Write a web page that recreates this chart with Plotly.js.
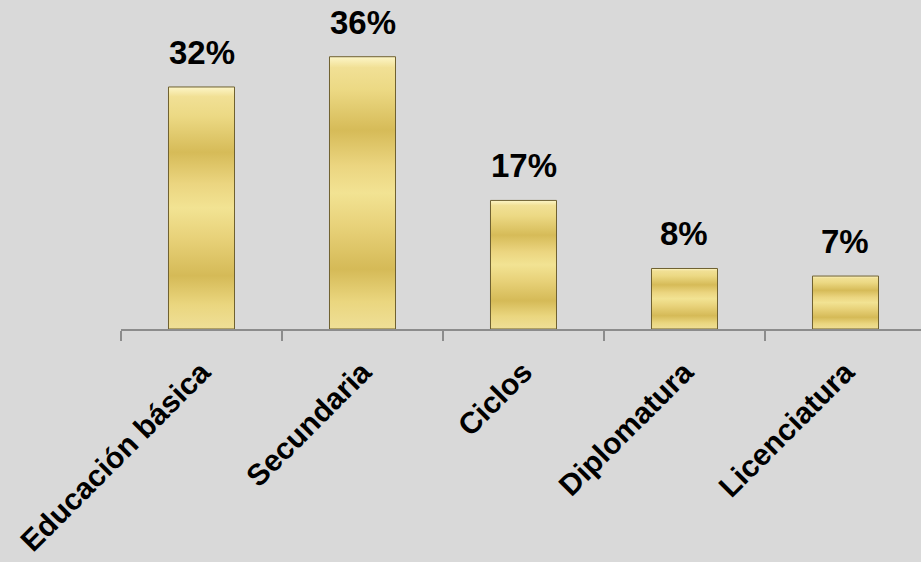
<!DOCTYPE html>
<html>
<head>
<meta charset="utf-8">
<script src="https://cdn.plot.ly/plotly-3.0.1.min.js"></script>
<style>
html,body{margin:0;padding:0;background:#d9d9d9;overflow:hidden;}
#chart{width:921px;height:562px;}
</style>
</head>
<body>
<div id="chart"></div>
<script>
const categories = ["Educación básica", "Secundaria", "Ciclos", "Diplomatura", "Licenciatura"];
const values = [32, 36, 17, 8, 7];
const labels = ["32%", "36%", "17%", "8%", "7%"];

const trace = {
  type: "bar",
  x: categories,
  y: values,
  width: 0.41,
  marker: {color: "#e5cc6a", line: {color: "#6f6130", width: 1}},
  hoverinfo: "none"
};

const annotations = categories.map((c, i) => ({
  x: c, y: values[i], text: labels[i], showarrow: false,
  xref: "x", yref: "y", yanchor: "bottom", yshift: 14,
  font: {family: "Liberation Sans, Arial, sans-serif", size: 33, color: "#000", weight: "bold"}
}));

const layout = {
  width: 921, height: 562,
  paper_bgcolor: "#d9d9d9", plot_bgcolor: "#d9d9d9",
  margin: {l: 121, r: 0, t: 0, b: 233},
  showlegend: false,
  xaxis: {
    type: "category",
    range: [-0.5, 4.469],
    showline: true, linecolor: "#8c8c8c", linewidth: 1.5,
    ticks: "outside", tickson: "boundaries", ticklen: 10, tickwidth: 1.5, tickcolor: "#8c8c8c",
    tickangle: -45, showgrid: false, zeroline: false, ticklabelstandoff: 12,
    tickfont: {family: "Liberation Sans, Arial, sans-serif", size: 30, color: "#000", weight: "bold"}
  },
  yaxis: {range: [0, 43.5], visible: false, showgrid: false, zeroline: false},
  annotations: annotations
};

Plotly.newPlot("chart", [trace], layout, {displayModeBar: false, staticPlot: true}).then(gd => {
  const svg = gd.querySelector("svg.main-svg");
  const ns = "http://www.w3.org/2000/svg";
  let defs = svg.querySelector("defs");
  if (!defs) { defs = document.createElementNS(ns, "defs"); svg.insertBefore(defs, svg.firstChild); }
  const grad = document.createElementNS(ns, "linearGradient");
  grad.setAttribute("id", "goldgrad");
  grad.setAttribute("x1", "0"); grad.setAttribute("y1", "0");
  grad.setAttribute("x2", "0"); grad.setAttribute("y2", "1");
  const stops = [[0, "#fdf6c8"], [0.04, "#f1e095"], [0.12, "#ecd984"], [0.27, "#d6bb58"], [0.4, "#ebd580"], [0.5, "#f2e393"], [0.62, "#e8d27a"], [0.78, "#d5ba57"], [0.9, "#ead67f"], [1, "#efdf97"]];
  stops.forEach(s => {
    const st = document.createElementNS(ns, "stop");
    st.setAttribute("offset", s[0]); st.setAttribute("stop-color", s[1]);
    grad.appendChild(st);
  });
  defs.appendChild(grad);
  gd.querySelectorAll(".bars .point path").forEach(p => { p.style.fill = "url(#goldgrad)"; });
});
</script>
</body>
</html>
